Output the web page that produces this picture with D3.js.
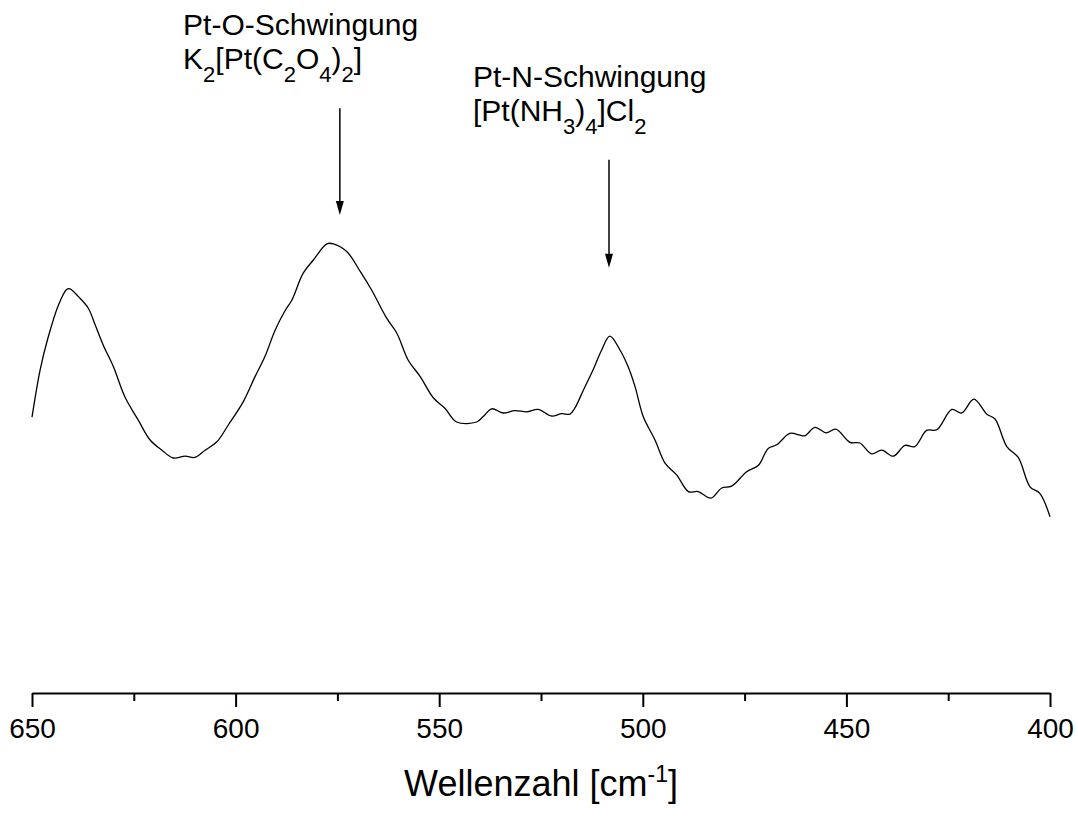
<!DOCTYPE html>
<html>
<head>
<meta charset="utf-8">
<script src="https://cdn.jsdelivr.net/npm/d3@7"></script>
<style>
  body { margin: 0; background: #fff; }
  svg { display: block; }
  text { font-family: Arial, "Liberation Sans", sans-serif; fill: #000; }
</style>
</head>
<body>
<script>
// IR spectrum, wavenumber in cm^-1 (descending), intensity in arbitrary units
const wavenumber = [
  650.0, 648.0, 646.0, 643.5, 641.5, 640.7, 638.6, 636.2, 634.5, 632.5,
  630.0, 627.2, 623.9, 621.0, 618.1, 615.3, 612.4, 610.0, 607.5, 604.6,
  601.8, 598.1, 595.2, 592.8, 590.3, 587.9, 586.2, 583.4, 580.9, 577.6,
  576.0, 572.7, 569.4, 566.6, 562.9, 560.4, 557.6, 554.7, 551.4, 548.6,
  545.7, 540.8, 539.2, 537.1, 534.3, 531.4, 528.5, 525.7, 522.4, 519.9,
  517.9, 516.7, 514.6, 512.2, 510.1, 508.1, 505.6, 503.6, 501.9, 499.9,
  497.0, 494.5, 491.7, 488.8, 486.4, 483.3, 480.6, 478.2, 474.5, 471.6,
  469.2, 467.1, 463.9, 461.4, 460.2, 457.7, 455.0, 452.6, 449.1, 446.7,
  443.8, 441.3, 438.5, 435.6, 433.2, 430.3, 427.8, 424.1, 421.7, 418.7,
  415.5, 413.5, 410.6, 407.8, 404.9, 402.5, 400.0
];
const intensity = [
  0.458, 0.537, 0.592, 0.645, 0.671, 0.672, 0.659, 0.640, 0.612, 0.578,
  0.542, 0.492, 0.453, 0.420, 0.403, 0.390, 0.393, 0.391, 0.403, 0.417,
  0.445, 0.484, 0.526, 0.559, 0.603, 0.635, 0.653, 0.698, 0.720, 0.747,
  0.747, 0.734, 0.701, 0.670, 0.623, 0.598, 0.553, 0.526, 0.490, 0.473,
  0.450, 0.450, 0.459, 0.472, 0.465, 0.469, 0.467, 0.471, 0.460, 0.464,
  0.463, 0.473, 0.503, 0.537, 0.570, 0.593, 0.570, 0.542, 0.509, 0.459,
  0.420, 0.381, 0.362, 0.334, 0.334, 0.323, 0.340, 0.343, 0.367, 0.378,
  0.406, 0.412, 0.431, 0.428, 0.427, 0.441, 0.432, 0.438, 0.416, 0.415,
  0.397, 0.403, 0.393, 0.411, 0.409, 0.436, 0.437, 0.471, 0.465, 0.488,
  0.463, 0.455, 0.409, 0.391, 0.342, 0.331, 0.292
];

const majorTicks = [650, 600, 550, 500, 450, 400];
const minorTicks = [625, 575, 525, 475, 425];

// annotated bands: arrow position (cm^-1), arrow top / tip (a.u.)
const bandPositions = [574.4, 508.3];
const arrowTop = [0.973, 0.887];
const arrowTip = [0.795, 0.707];
const bandTitles = ["Pt-O-Schwingung", "Pt-N-Schwingung"];
// formula pieces: [text, "sub" | ""]
const bandFormulas = [
  [["K", ""], ["2", "sub"], ["[Pt(C", ""], ["2", "sub"], ["O", ""], ["4", "sub"], [")", ""], ["2", "sub"], ["]", ""]],
  [["[Pt(NH", ""], ["3", "sub"], [")", ""], ["4", "sub"], ["]Cl", ""], ["2", "sub"]]
];
const labelStart = [612.9, 541.7];

const width = 1078;
const height = 817;
const axisY = 693;

const svg = d3.select("body").append("svg")
  .attr("width", width)
  .attr("height", height);

const x = d3.scaleLinear().domain([650, 400]).range([32, 1050]);
const y = d3.scaleLinear().domain([0, 1]).range([692, 92]);

// spectrum
const pts = wavenumber.map((w, i) => [w, intensity[i]]);
svg.append("path")
  .datum(pts)
  .attr("fill", "none")
  .attr("stroke", "#000")
  .attr("stroke-width", 1.3)
  .attr("d", d3.line()
    .x(d => x(d[0]))
    .y(d => y(d[1]))
    .curve(d3.curveCatmullRom.alpha(0.5)));

// x axis
const xAxis = svg.append("g")
  .attr("transform", `translate(0,${axisY})`)
  .call(d3.axisBottom(x)
    .tickValues(majorTicks)
    .tickSize(14)
    .tickSizeOuter(0)
    .tickPadding(11)
    .tickFormat(d3.format("d")));
xAxis.select(".domain").attr("stroke", "#000").attr("stroke-width", 2);
xAxis.selectAll(".tick line").attr("stroke", "#000").attr("stroke-width", 2);
xAxis.selectAll(".tick text")
  .attr("font-size", 28)
  .attr("font-family", "Arial, 'Liberation Sans', sans-serif")
  .attr("fill", "#000");

const xMinor = svg.append("g")
  .attr("transform", `translate(0,${axisY})`)
  .call(d3.axisBottom(x).tickValues(minorTicks).tickSize(8).tickFormat(""));
xMinor.select(".domain").remove();
xMinor.selectAll(".tick line").attr("stroke", "#000").attr("stroke-width", 2);

// axis title
const title = svg.append("text")
  .attr("x", (x(650) + x(400)) / 2)
  .attr("y", 796)
  .attr("text-anchor", "middle")
  .attr("font-size", 36);
title.append("tspan").text("Wellenzahl [cm");
title.append("tspan").attr("font-size", 23).attr("dy", -14).text("-1");
title.append("tspan").attr("dy", 14).text("]");

bandPositions.forEach((b, i) => {
  svg.append("line")
    .attr("x1", x(b)).attr("x2", x(b))
    .attr("y1", y(arrowTop[i]))
    .attr("y2", y(arrowTip[i]) - 8)
    .attr("stroke", "#000")
    .attr("stroke-width", 1.5);
  svg.append("path")
    .attr("d", `M${x(b) - 4},${y(arrowTip[i]) - 14} L${x(b) + 4},${y(arrowTip[i]) - 14} L${x(b)},${y(arrowTip[i])} Z`)
    .attr("fill", "#000");

  const top = y(arrowTop[i]);
  svg.append("text")
    .attr("x", x(labelStart[i]))
    .attr("y", top - 73)
    .attr("font-size", 30)
    .text(bandTitles[i]);

  const f = svg.append("text")
    .attr("x", x(labelStart[i]))
    .attr("y", top - 39)
    .attr("font-size", 30);
  let shifted = false;
  bandFormulas[i].forEach(([t, kind]) => {
    const ts = f.append("tspan").text(t);
    if (kind === "sub") {
      ts.attr("font-size", 22).attr("dy", shifted ? 0 : 13);
      shifted = true;
    } else {
      ts.attr("dy", shifted ? -13 : 0);
      shifted = false;
    }
  });
});
</script>
</body>
</html>
